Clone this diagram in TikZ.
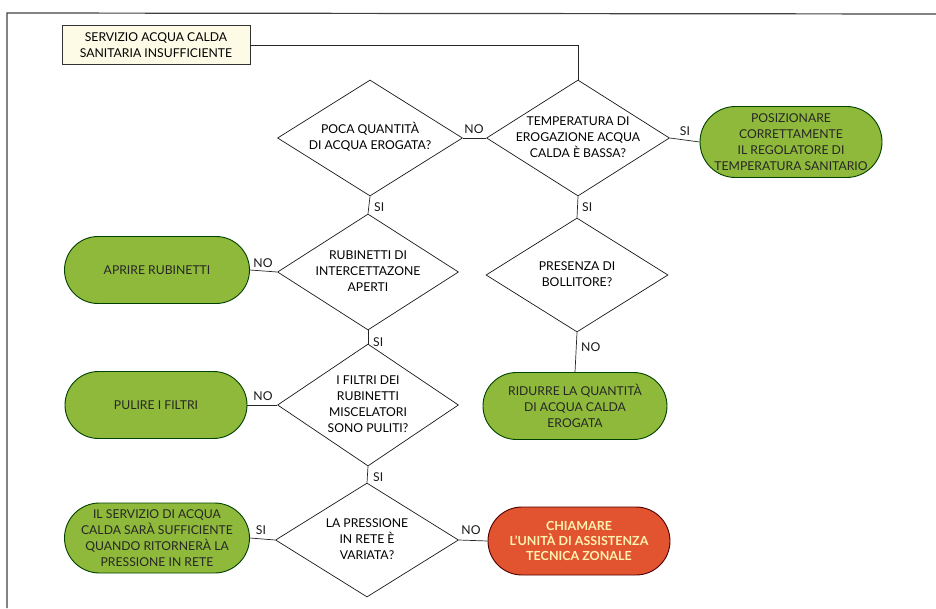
\documentclass[tikz,border=0pt]{standalone}
\usepackage{fontspec}
\setmainfont{Lato}
\usetikzlibrary{shapes.geometric,shapes.misc}
\definecolor{pillgreen}{HTML}{8FB93A}
\definecolor{pillred}{HTML}{E2532F}
\definecolor{cream}{HTML}{FDFBE6}
\definecolor{redtext}{HTML}{FFF2B0}
\newcommand\dtext[1]{\makebox[0pt]{\smash{\raisebox{-0.3em}{\begin{tabular}{@{}c@{}}#1\end{tabular}}}}}
\begin{document}
\begin{tikzpicture}[x=1pt,y=-1pt,
  every node/.style={font=\fontsize{12.2}{16}\selectfont},
  conn/.style={draw=black!85, line width=0.7pt},
  dia/.style={diamond, draw=black!90, line width=0.7pt, fill=white, inner sep=0pt},
  pill/.style={rounded rectangle, draw=black!75!green, line width=0.9pt, fill=pillgreen, align=center, inner sep=0pt, text=black!85},
  redpill/.style={rounded rectangle, draw=black!70!red, line width=0.9pt, fill=pillred, align=center, inner sep=0pt, text=redtext, font=\fontsize{12.5}{15}\selectfont\bfseries},
  startbox/.style={rectangle, draw=black!80, line width=0.8pt, fill=cream, align=center, inner sep=0pt},
  lbl/.style={inner sep=1pt, text=black!90}
]
\useasboundingbox (0,0) rectangle (936,608);
% frame
\draw[line width=1.2pt, black!75] (7,608) -- (7,13) -- (936,14);

% start
\node[startbox, minimum width=188pt, minimum height=39pt] (start) at (156,45) {SERVIZIO ACQUA CALDA\\SANITARIA INSUFFICIENTE};

% diamonds
\node[dia, minimum width=185pt, minimum height=116pt] (poca) at (370,138) {\dtext{POCA QUANTITÀ\\DI ACQUA EROGATA?}};
\node[dia, minimum width=183pt, minimum height=116pt] (temp) at (578,138) {\dtext{TEMPERATURA DI\\EROGAZIONE ACQUA\\CALDA È BASSA?}};
\node[dia, minimum width=182pt, minimum height=114pt] (pres) at (577,275) {\dtext{PRESENZA DI\\BOLLITORE?}};
\node[dia, minimum width=181pt, minimum height=116pt] (rub) at (368,272) {\dtext{RUBINETTI DI\\INTERCETTAZONE\\APERTI}};
\node[dia, minimum width=181pt, minimum height=122pt] (fil) at (368,405) {\dtext{I FILTRI DEI\\RUBINETTI\\MISCELATORI\\SONO PULITI?}};
\node[dia, minimum width=183pt, minimum height=114pt] (lap) at (367,540) {\dtext{LA PRESSIONE\\IN RETE È\\VARIATA?}};

% pills
\node[pill, minimum width=182pt, minimum height=71pt] (pos) at (791,142) {POSIZIONARE\\CORRETTAMENTE\\IL REGOLATORE DI\\TEMPERATURA SANITARIO};
\node[pill, minimum width=185pt, minimum height=67pt] (apr) at (157,270) {APRIRE RUBINETTI};
\node[pill, minimum width=184pt, minimum height=67pt] (rid) at (575,406) {RIDURRE LA QUANTITÀ\\DI ACQUA CALDA\\EROGATA};
\node[pill, minimum width=182pt, minimum height=67pt] (pul) at (156,405) {PULIRE I FILTRI};
\node[pill, minimum width=185pt, minimum height=70pt] (ser) at (157,538) {IL SERVIZIO DI ACQUA\\CALDA SARÀ SUFFICIENTE\\QUANDO RITORNERÀ LA\\PRESSIONE IN RETE};
\node[redpill, minimum width=182pt, minimum height=68pt] (chi) at (579,541) {CHIAMARE\\L'UNITÀ DI ASSISTENZA\\TECNICA ZONALE};

% connectors
\draw[conn] (start.east) -| (temp.north);
\draw[conn] (temp.west) -- (poca.east);
\draw[conn] (temp.east) -- (pos.west);
\draw[conn] (temp.south) -- (pres.north);
\draw[conn] (pres.south) -- (rid.north);
\draw[conn] (poca.south) -- (rub.north);
\draw[conn] (rub.west) -- (apr.east);
\draw[conn] (rub.south) -- (fil.north);
\draw[conn] (fil.west) -- (pul.east);
\draw[conn] (fil.south) -- (lap.north);
\draw[conn] (lap.west) -- (ser.east);
\draw[conn] (lap.east) -- (chi.west);

% labels
\node[lbl] (l1) at (474,129) {NO};
\node[lbl] (l2) at (685,131) {SI};
\node[lbl, anchor=west] (l3) at (581,207) {SI};
\node[lbl, anchor=west] (l4) at (580,347) {NO};
\node[lbl, anchor=west] (l5) at (373,207) {SI};
\node[lbl] (l6) at (263,263) {NO};
\node[lbl, anchor=west] (l7) at (372,342) {SI};
\node[lbl] (l8) at (263,396) {NO};
\node[lbl, anchor=west] (l9) at (372,477) {SI};
\node[lbl] (l10) at (261,530) {SI};
\node[lbl] (l11) at (471,530) {NO};
\end{tikzpicture}
\end{document}
